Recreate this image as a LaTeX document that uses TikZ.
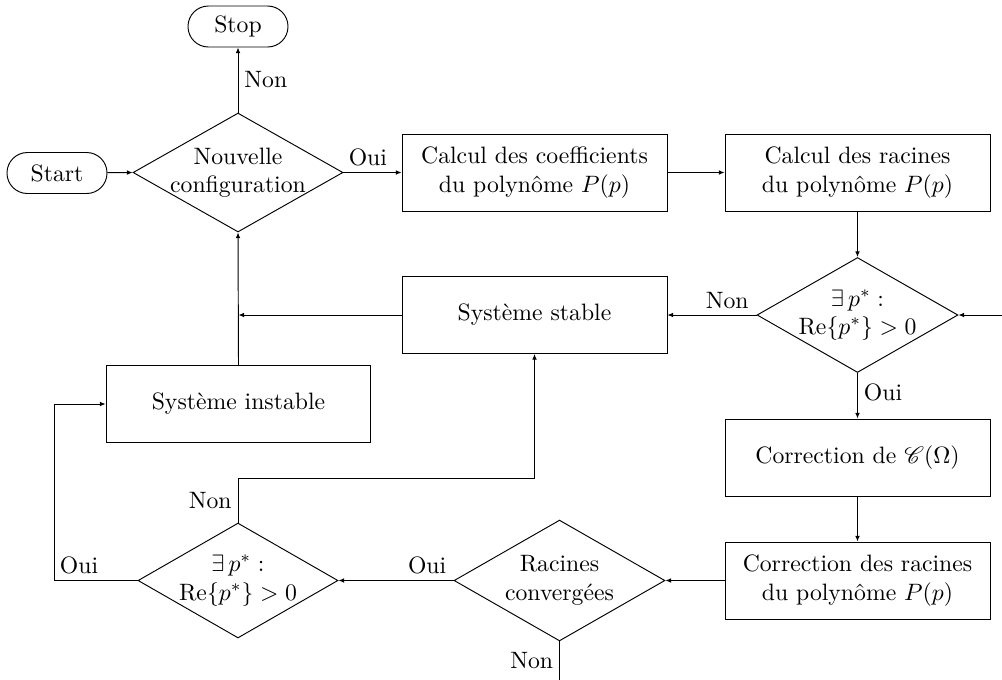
\documentclass[tikz,border=0pt]{standalone}
\usepackage{mathrsfs}
\usetikzlibrary{shapes.geometric,arrows.meta,calc}
\begin{document}
\begin{tikzpicture}[x=0.422pt,y=-0.422pt,
  box/.style={draw, rectangle, minimum width=111.8pt, minimum height=32.5pt, align=center},
  term/.style={draw, rectangle, rounded corners=8.6pt, minimum width=42.2pt, minimum height=17.3pt},
  decision/.style={draw, diamond, aspect=1.75, inner sep=-4pt, align=center},
  arr/.style={-{Latex[length=2.4pt,width=2pt]}},
  lbl/.style={inner sep=2.5pt}
]
\useasboundingbox (0,0) rectangle (1002,679);
% nodes
\node[term] (stop) at (238,26.5) {Stop};
\node[term] (start) at (57,173) {Start};
\node[decision, minimum width=88.6pt, minimum height=50.2pt] (d1) at (238,172.5) {Nouvelle\\configuration};
\node[box] (b1) at (534.5,172.5) {Calcul des coefficients\\du polyn\^ome $P(p)$};
\node[box] (b2) at (857.5,172.5) {Calcul des racines\\du polyn\^ome $P(p)$};
\node[decision, minimum width=84.8pt, minimum height=48.5pt] (d2) at (857.5,315) {$\exists\,p^*:$\\$\mathrm{Re}\{p^*\}>0$};
\node[box] (stable) at (534.5,315) {Syst\`eme stable};
\node[box] (instable) at (238.5,404) {Syst\`eme instable};
\node[box] (corr) at (857.5,457.5) {Correction de $\mathscr{C}(\Omega)$};
\node[box] (corrrac) at (857.5,580.5) {Correction des racines\\du polyn\^ome $P(p)$};
\node[decision, minimum width=89pt, minimum height=51pt] (d3) at (559.5,580.5) {Racines\\converg\'ees};
\node[decision, minimum width=84.4pt, minimum height=48.5pt] (d4) at (238,580.5) {$\exists\,p^*:$\\$\mathrm{Re}\{p^*\}>0$};
% free ends and bends
\coordinate (cin) at (1015,315);
\coordinate (cout) at (559.5,705);
\coordinate (cnon) at (238,478);
\coordinate (coui) at (54,580.5);
% connectors
\draw[arr] (start) -- (d1.west);
\draw[arr] (d1.north) -- node[lbl, right] {Non} (stop.south);
\draw[arr] (d1.east) -- node[lbl, above, pos=0.42] {Oui} (b1.west);
\draw[arr] (b1) -- (b2);
\draw[arr] (b2.south) -- (d2.north);
\draw[arr] (cin) -- (d2.east);
\draw[arr] (d2.west) -- node[lbl, above, pos=0.33] {Non} (stable.east);
\draw[arr] (d2.south) -- node[lbl, right, pos=0.43] {Oui} (corr.north);
\draw[arr] (corr) -- (corrrac);
\draw[arr] (corrrac.west) -- (d3.east);
\draw[arr] (d3.west) -- node[lbl, above, pos=0.23] {Oui} (d4.east);
\draw[arr] (d3.south) -- node[lbl, left, pos=0.3] {Non} (cout);
\draw[arr] (d4.north) -- node[lbl, left] {Non} (cnon) -| (stable.south);
\draw[arr] (d4.west) -- node[lbl, above, pos=0.7] {Oui} (coui) |- (instable.west);
\draw[arr] (stable.west) -- (instable.north |- stable.west);
\draw[arr] (instable.north) -- (d1.south);
\end{tikzpicture}
\end{document}
